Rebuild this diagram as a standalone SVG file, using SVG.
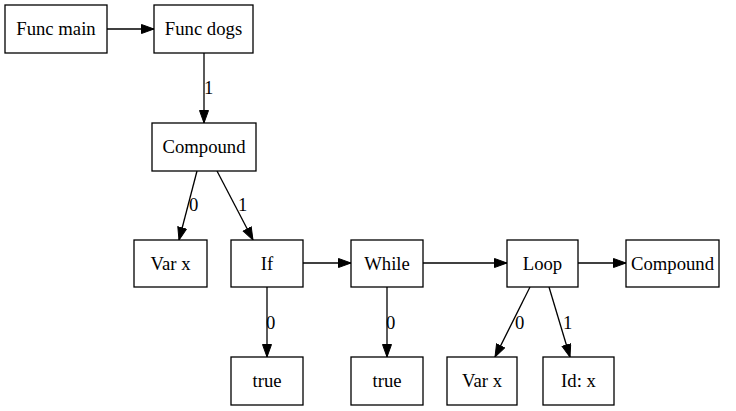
<svg xmlns="http://www.w3.org/2000/svg" width="736" height="411" viewBox="0 0 736 411">
<style>
.n rect{fill:#fff;stroke:#000;stroke-width:1.3}
.n text,.l{font-family:"Liberation Serif","Times New Roman",serif;font-size:18.7px;fill:#000}
.n text{text-anchor:middle}
.e line{stroke:#000;stroke-width:1.3;marker-end:url(#ah)}
</style>
<defs>
<marker id="ah" markerUnits="userSpaceOnUse" markerWidth="14" markerHeight="11" refX="13" refY="5" orient="auto">
<path d="M0.5,0.5 L13,5 L0.5,9.5 Z" fill="#000" stroke="#000" stroke-width="1"/>
</marker>
</defs>
<rect width="736" height="411" fill="#fff"/>
<g id="edges" class="e">
<line x1="107" y1="29" x2="154" y2="29"/>
<line x1="204" y1="53" x2="204" y2="123"/>
<line x1="197" y1="171" x2="179" y2="240"/>
<line x1="217" y1="171" x2="253" y2="240"/>
<line x1="303" y1="263" x2="351" y2="263"/>
<line x1="423" y1="263" x2="507" y2="263"/>
<line x1="578" y1="263" x2="626" y2="263"/>
<line x1="267" y1="287" x2="267" y2="357"/>
<line x1="387" y1="287" x2="387" y2="357"/>
<line x1="530" y1="287" x2="495" y2="357"/>
<line x1="549" y1="287" x2="570" y2="357"/>
<text class="l" x="204" y="94">1</text>
<text class="l" x="189" y="211">0</text>
<text class="l" x="238" y="211">1</text>
<text class="l" x="266" y="329">0</text>
<text class="l" x="386" y="329">0</text>
<text class="l" x="515" y="329">0</text>
<text class="l" x="563" y="329">1</text>
</g>
<g id="func_main" class="n"><rect x="5" y="5" width="102" height="48"/><text x="56" y="35">Func main</text></g>
<g id="func_dogs" class="n"><rect x="154" y="5" width="99" height="48"/><text x="203.5" y="35">Func dogs</text></g>
<g id="compound1" class="n"><rect x="152" y="123" width="104" height="48"/><text x="204" y="153">Compound</text></g>
<g id="varx1" class="n"><rect x="134" y="240" width="73" height="47"/><text x="170.5" y="270">Var x</text></g>
<g id="if" class="n"><rect x="231" y="240" width="72" height="47"/><text x="267" y="270">If</text></g>
<g id="while" class="n"><rect x="351" y="240" width="72" height="47"/><text x="387" y="270">While</text></g>
<g id="loop" class="n"><rect x="507" y="240" width="71" height="47"/><text x="542.5" y="270">Loop</text></g>
<g id="compound2" class="n"><rect x="626" y="240" width="93" height="47"/><text x="672.5" y="270">Compound</text></g>
<g id="true1" class="n"><rect x="231" y="357" width="72" height="48"/><text x="267" y="387">true</text></g>
<g id="true2" class="n"><rect x="351" y="357" width="72" height="48"/><text x="387" y="387">true</text></g>
<g id="varx2" class="n"><rect x="447" y="357" width="70" height="48"/><text x="482" y="387">Var x</text></g>
<g id="idx" class="n"><rect x="543" y="357" width="71" height="48"/><text x="578.5" y="387">Id: x</text></g>
</svg>
